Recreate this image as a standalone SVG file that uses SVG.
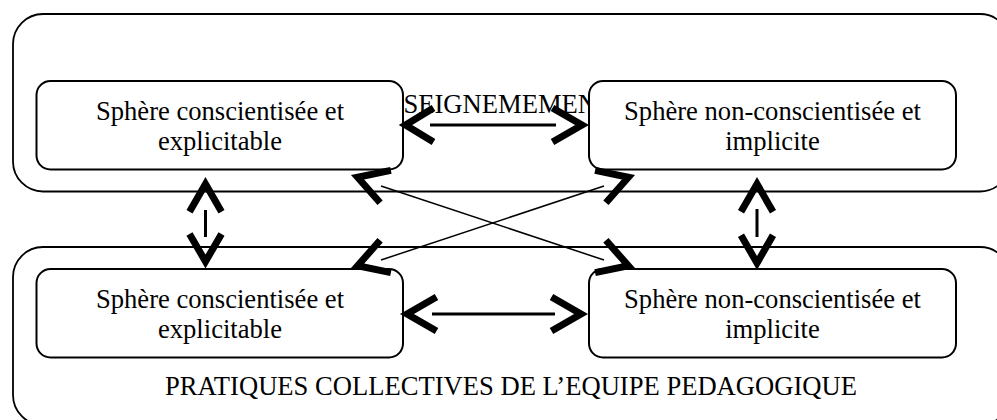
<svg xmlns="http://www.w3.org/2000/svg" width="997" height="420" viewBox="0 0 997 420">
<style>
.outer{fill:#fff;stroke:#000;stroke-width:1.8}
.inner{fill:#fff;stroke:#000;stroke-width:2}
.t{font-family:"Liberation Serif","Times New Roman",serif;font-size:26.6px;fill:#000}
.c{text-anchor:middle}
.head{fill:none;stroke:#000;stroke-width:7;stroke-linejoin:miter;stroke-miterlimit:10;stroke-linecap:butt}
.shaft{stroke:#000;stroke-width:3;fill:none}
.thin{stroke:#000;stroke-width:1.5;fill:none}
</style>
<rect width="997" height="420" fill="#fff"/>
<g id="group-enseignement">
<rect class="outer" x="13" y="14" width="997" height="177.5" rx="30" ry="30"/>
<text class="t" x="368" y="113">ENSEIGNEMEMENT</text>
</g>
<g id="group-pratiques">
<rect class="outer" x="13" y="247" width="997" height="178" rx="30" ry="30"/>
<text class="t c" x="511" y="395">PRATIQUES COLLECTIVES DE L’EQUIPE PEDAGOGIQUE</text>
</g>
<g id="node-top-left">
<rect class="inner" x="36.5" y="81" width="366.5" height="88.5" rx="14" ry="14"/>
<text class="t c" x="220" y="120">Sphère conscientisée et</text>
<text class="t c" x="220" y="150">explicitable</text>
</g>
<g id="node-top-right">
<rect class="inner" x="589" y="81" width="367" height="88.5" rx="14" ry="14"/>
<text class="t c" x="772.5" y="120">Sphère non-conscientisée et</text>
<text class="t c" x="772.5" y="150">implicite</text>
</g>
<g id="node-bottom-left">
<rect class="inner" x="36.5" y="269" width="366.5" height="88.5" rx="14" ry="14"/>
<text class="t c" x="220" y="308">Sphère conscientisée et</text>
<text class="t c" x="220" y="338">explicitable</text>
</g>
<g id="node-bottom-right">
<rect class="inner" x="589" y="269" width="367" height="88.5" rx="14" ry="14"/>
<text class="t c" x="772.5" y="308">Sphère non-conscientisée et</text>
<text class="t c" x="772.5" y="338">implicite</text>
</g>
<g id="connectors">
<line class="shaft" x1="430" y1="125" x2="556" y2="125"/>
<polyline class="head" points="433.5,108 405.5,125 433.5,142"/>
<polyline class="head" points="552.5,108 582,125 552.5,142"/>
<line class="shaft" x1="432" y1="314" x2="555" y2="314"/>
<polyline class="head" points="436.5,297 407,314 436.5,331"/>
<polyline class="head" points="551.5,297 581,314 551.5,331"/>
<line class="shaft" x1="205.5" y1="210" x2="205.5" y2="237"/>
<polyline class="head" points="189.5,211.7 205.5,184 221.5,211.7"/>
<polyline class="head" points="189.5,234 205.5,261.5 221.5,234"/>
<line class="shaft" x1="757" y1="209" x2="757" y2="237"/>
<polyline class="head" points="741,211.7 757,184 773,211.7"/>
<polyline class="head" points="741,235.3 757,263 773,235.3"/>
<line class="thin" x1="381" y1="186" x2="604" y2="260"/>
<line class="thin" x1="604" y1="186" x2="381" y2="260"/>
<polyline class="head" points="390.9,170.4 357.6,177.2 380.1,202.7"/>
<polyline class="head" points="595.1,170.4 628.4,177.2 605.9,202.7"/>
<polyline class="head" points="380.1,240.3 357.6,265.8 390.9,272.6"/>
<polyline class="head" points="605.9,240.3 628.4,265.8 595.1,272.6"/>
</g>
</svg>
